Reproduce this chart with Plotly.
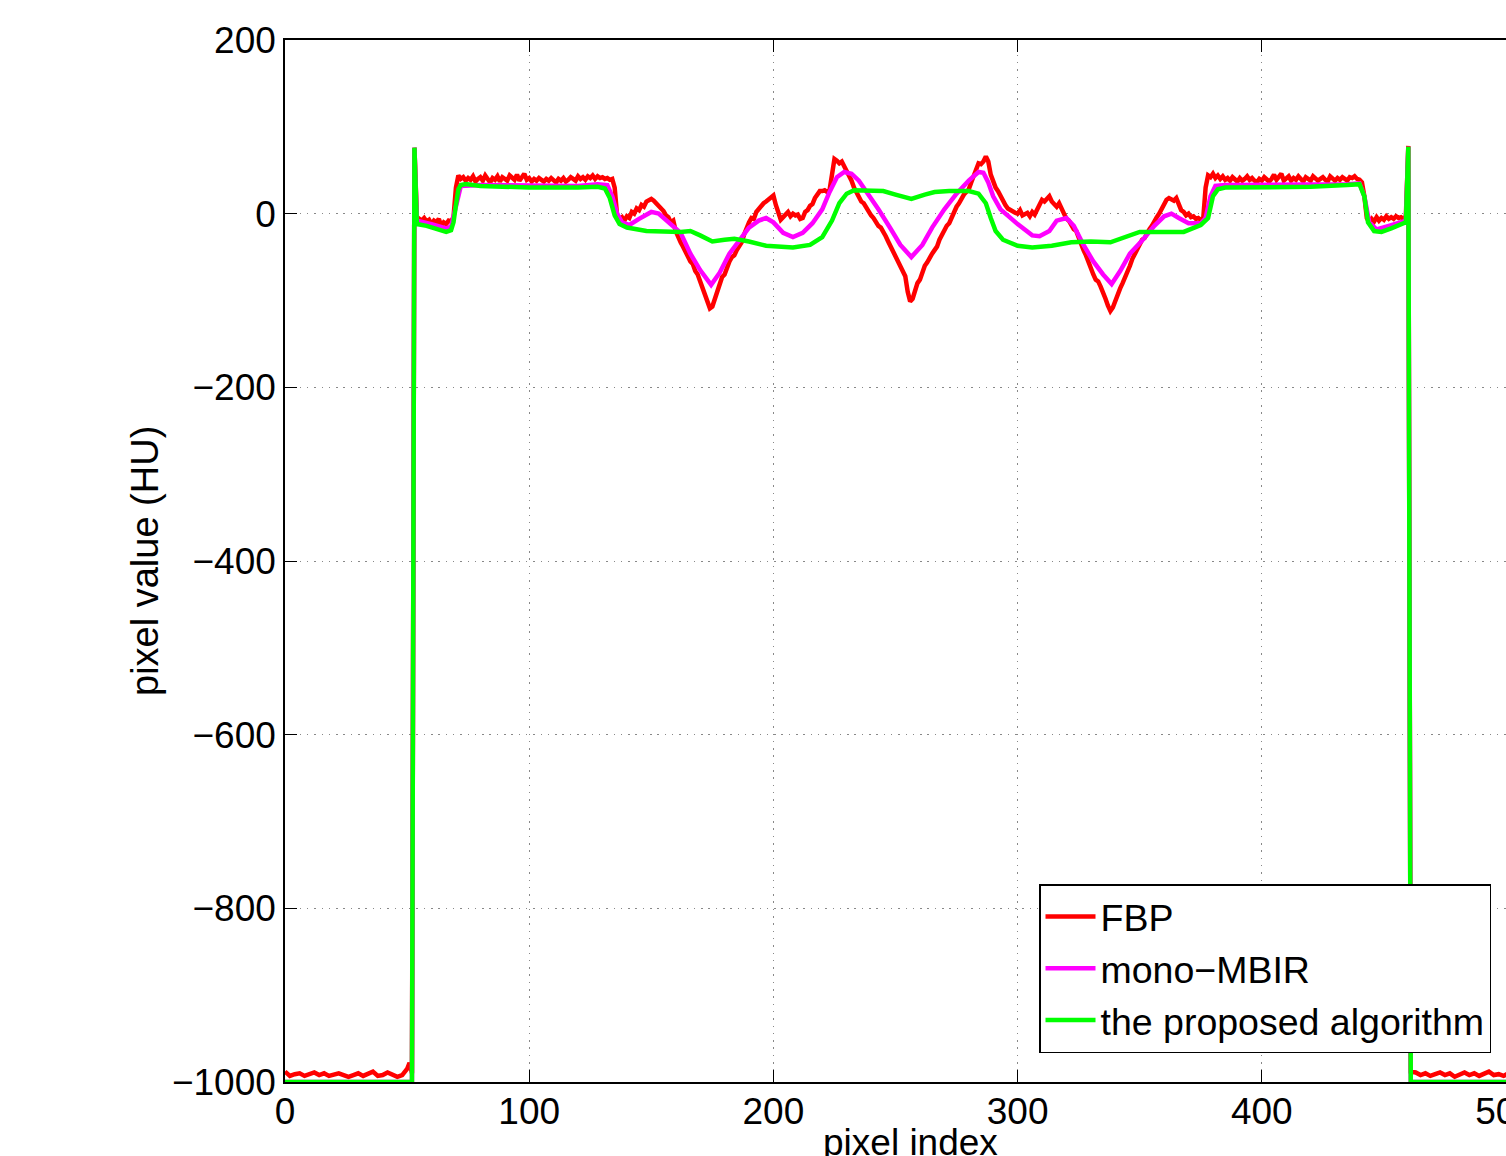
import plotly.graph_objects as go

# ---------------- data ----------------
fbp_x = list(range(0, 51, 2)) + list(range(51, 462)) + list(range(463, 512, 2))
fbp_y = [
    # left air region 0..50 step 2
    -988, -993, -991, -990, -993, -991, -989, -992, -990, -993,
    -991, -990, -992, -994, -992, -990, -993, -991, -988, -993,
    -992, -989, -991, -994, -992, -985,
    # 51..461
    -978, -990, 76, -4, -6, -8, -5, -9, -7, -12,
    -8, -10, -6, -14, -10, -12, -8, -9, -4, 30,
    44, 40, 42, 38, 41, 39, 43, 37, 40, 42,
    38, 44, 40, 36, 41, 39, 43, 37, 42, 40,
    38, 44, 41, 39, 45, 38, 42, 46, 39, 41,
    37, 40, 38, 41, 39, 37, 40, 38, 41, 39,
    36, 40, 38, 41, 37, 39, 42, 40, 38, 43,
    40, 42, 39, 43, 41, 44, 40, 43, 41, 42,
    40, 41, 39, 40, 30, -2, -6, -4, -8, -3,
    -5, 2, 0, 6, 4, 10, 8, 14, 16, 17,
    15, 12, 8, 5, 3, -2, -4, -10, -8, -20,
    -28, -33, -38, -44, -50, -55, -58, -66, -70, -78,
    -85, -94, -103, -109, -107, -98, -90, -82, -73, -70,
    -62, -55, -50, -48, -42, -38, -33, -24, -15, -10,
    -5, -6, 2, 6, 9, 12, 14, 16, 18, 21,
    10, 0, -7, -4, -1, 2, -3, 0, -2, -1,
    -6, -5, 2, 4, 9, 11, 18, 22, 26, 26,
    27, 25, 27, 45, 63, 61, 58, 60, 55, 50,
    44, 38, 30, 24, 20, 14, 12, 7, 3, -2,
    -5, -10, -14, -16, -20, -26, -32, -38, -42, -48,
    -55, -60, -66, -72, -90, -101, -98, -88, -80, -76,
    -66, -60, -56, -50, -46, -42, -38, -30, -24, -18,
    -14, -11, -4, 2, 8, 12, 18, 22, 25, 28,
    36, 44, 52, 58, 57, 60, 66, 60, 45, 36,
    30, 26, 20, 14, 10, 6, 4, 2, 1, 0,
    4, -2, 0, 1, -3, 2, -1, 5, 12, 16,
    14, 18, 20, 14, 10, 8, 12, 6, 0, -6,
    -8, -14, -18, -20, -28, -34, -42, -48, -56, -63,
    -70, -76, -78, -84, -90, -98, -106, -112, -108, -100,
    -93, -86, -80, -74, -66, -60, -52, -46, -40, -36,
    -30, -28, -22, -18, -14, -8, -4, 0, 6, 10,
    16, 18, 17, 15, 18, 10, 4, 2, -2, 0,
    -4, -3, -6, -5, -7, -6, 30, 44, 42, 46,
    41, 44, 40, 43, 39, 41, 38, 42, 39, 37,
    41, 38, 40, 43, 39, 41, 38, 36, 40, 38,
    42, 39, 37, 40, 45, 39, 42, 46, 38, 40,
    43, 38, 41, 39, 43, 40, 37, 42, 40, 38,
    43, 41, 38, 40, 42, 39, 37, 43, 40, 38,
    41, 39, 42, 40, 38, 42, 41, 43, 40, 39,
    36, 20, -5, -10, -6, -9, -4, -8, -5, -7,
    -3, -6, -4, -6, -3, -5, -4, -6, -3, 78,
    -988,
    # right air region 463..511 step 2
    -989, -992, -990, -993, -991, -989, -992, -990, -994, -991,
    -989, -992, -990, -993, -990, -988, -992, -991, -993, -990,
    -992, -989, -991, -993, -990,
]

mbir_x = [0, 52, 53, 54, 60, 66, 68, 70, 72, 80, 100, 120, 128, 132, 134, 136, 138,
          141, 145, 150, 153, 157, 162, 166, 170, 174.5, 178, 182, 186, 190, 194,
          197, 200, 204, 208, 212, 216, 220, 223, 226, 229, 232, 235, 238, 243,
          247.7, 252, 256.5, 261, 265, 270, 275, 280, 284, 286, 288, 290, 293,
          297, 300, 306, 309, 313, 316, 320, 323, 327, 331, 335, 338.5, 342, 346,
          351, 356, 360, 363, 366, 370, 375, 377, 379, 381, 385, 400, 420, 435,
          440, 442, 444, 447, 452, 456, 459, 460, 461, 511]
mbir_y = [-1000, -1000, 76, -8, -12, -17, -15, 10, 32, 33, 32, 32, 34, 33, 20, 0, -10,
          -13, -6, 2, 0, -10, -22, -46, -65, -82, -68, -46, -30, -16, -8,
          -5, -10, -22, -27, -22, -11, 5, 25, 42, 48, 46, 38, 26, 5,
          -16, -36, -50, -36, -16, 5, 23, 38, 48, 47, 36, 20, 5,
          -5, -12, -25, -26, -20, -8, -5, -14, -36, -55, -70, -81, -66, -46,
          -31, -14, -3, 0, -5, -11, -11, -5, 20, 32, 33, 33, 33, 34,
          35, 20, -10, -18, -14, -10, -8, 77, -1000, -1000]

prop_x = [0, 52, 53, 54, 58, 62, 66, 68, 69, 70, 71, 72, 74, 80, 100, 120, 128, 131,
          133, 135, 137, 140, 148, 162, 166, 170, 175, 180, 184, 190, 197, 208,
          215, 220, 222, 224, 227, 230, 233, 245, 250, 256.5, 262, 266, 272, 280,
          284, 287, 289, 291, 294, 300, 306, 314, 322, 330, 338, 345, 350, 362,
          368, 375, 378, 380, 382, 385, 400, 420, 435, 440, 442, 443.5, 446, 449,
          453, 457, 459, 460, 461, 511]
prop_y = [-1000, -1000, 76, -12, -14, -17, -21, -19, -10, 10, 28, 33, 34, 32, 30, 30, 31, 29,
          18, -2, -12, -16, -20, -21, -20, -25, -32, -30, -29, -32, -37, -39,
          -36, -27, -18, -8, 12, 23, 27, 26, 22, 17, 22, 25, 26, 26,
          23, 12, -5, -20, -30, -37, -39, -37, -33, -32, -33, -26, -21, -21,
          -21, -13, -5, 20, 28, 30, 30, 31, 33, 34, 20, -10, -20, -21,
          -17, -12, -10, 77, -1000, -1000]

series_names = ["FBP", "mono\u2212MBIR", "the proposed algorithm"]
series_colors = ["#ff0000", "#ff00ff", "#00ff00"]

x_ticks = [0, 100, 200, 300, 400, 500]
y_ticks = [-1000, -800, -600, -400, -200, 0, 200]

assert len(fbp_x) == len(fbp_y), (len(fbp_x), len(fbp_y))
assert len(mbir_x) == len(mbir_y), (len(mbir_x), len(mbir_y))
assert len(prop_x) == len(prop_y), (len(prop_x), len(prop_y))

# ---------------- figure ----------------
FONT = "Liberation Sans, Arial, Helvetica, sans-serif"
W, H = 1506, 1156
ML, MT, MB, MR = 285, 40, 74, 0
PW = W - ML - MR
PH = H - MT - MB

fig = go.Figure()
for xs, ys, name, col in zip([fbp_x, mbir_x, prop_x], [fbp_y, mbir_y, prop_y],
                             series_names, series_colors):
    fig.add_trace(go.Scatter(x=xs, y=ys, mode="lines", name=name,
                             line=dict(color=col, width=4.5)))

fig.update_layout(
    width=W, height=H,
    margin=dict(l=ML, r=MR, t=MT, b=MB, pad=0, autoexpand=False),
    paper_bgcolor="white", plot_bgcolor="white",
    font=dict(family=FONT, size=37, color="black"),
    showlegend=True,
    legend=dict(
        x=(1039 - ML) / PW, y=(1082 - 884) / PH, xanchor="left", yanchor="top",
        bgcolor="white", bordercolor="black", borderwidth=1.5,
        font=dict(family=FONT, size=37.5, color="black"),
        itemwidth=50, tracegroupgap=0,
    ),
    hovermode=False,
)

GRID_DASH = "1.5px,5.8px"
fig.update_xaxes(
    range=[0, 500], tickvals=x_ticks, ticktext=[str(v) for v in x_ticks],
    showline=True, linecolor="black", linewidth=1.5, mirror="ticks",
    ticks="inside", ticklen=12, tickcolor="black", tickwidth=1.2,
    showgrid=True, gridcolor="#888888", griddash=GRID_DASH, gridwidth=1.3,
    zeroline=False, ticklabeloverflow="allow", ticklabelstandoff=-4,
    tickfont=dict(family=FONT, size=37, color="black"),
)
fig.update_yaxes(
    range=[-1000, 200], tickvals=y_ticks,
    ticktext=[("\u2212" + str(-v)) if v < 0 else str(v) for v in y_ticks],
    showline=True, linecolor="black", linewidth=1.5, mirror=False,
    ticks="inside", ticklen=12, tickcolor="black", tickwidth=1.2,
    showgrid=True, gridcolor="#888888", griddash=GRID_DASH, gridwidth=1.3,
    zeroline=False, ticklabeloverflow="allow",
    tickfont=dict(family=FONT, size=37, color="black"),
)

# axis titles as annotations (the original axes extend past the cropped right edge)
fig.add_annotation(
    text="pixel index", xref="paper", yref="paper",
    x=(910 - ML) / PW, y=(1082 - 1120) / PH, xanchor="center", yanchor="top",
    showarrow=False, font=dict(family=FONT, size=37, color="black"),
)
fig.add_annotation(
    text="pixel value (HU)", xref="paper", yref="paper",
    x=(145 - ML) / PW, y=(1082 - 561) / PH, xanchor="center", yanchor="middle",
    textangle=-90, showarrow=False, font=dict(family=FONT, size=38, color="black"),
)

fig.write_html(
    "out.html",
    config={"displayModeBar": False},
    post_script="document.body.style.margin='0';document.body.style.overflow='hidden';"
)
